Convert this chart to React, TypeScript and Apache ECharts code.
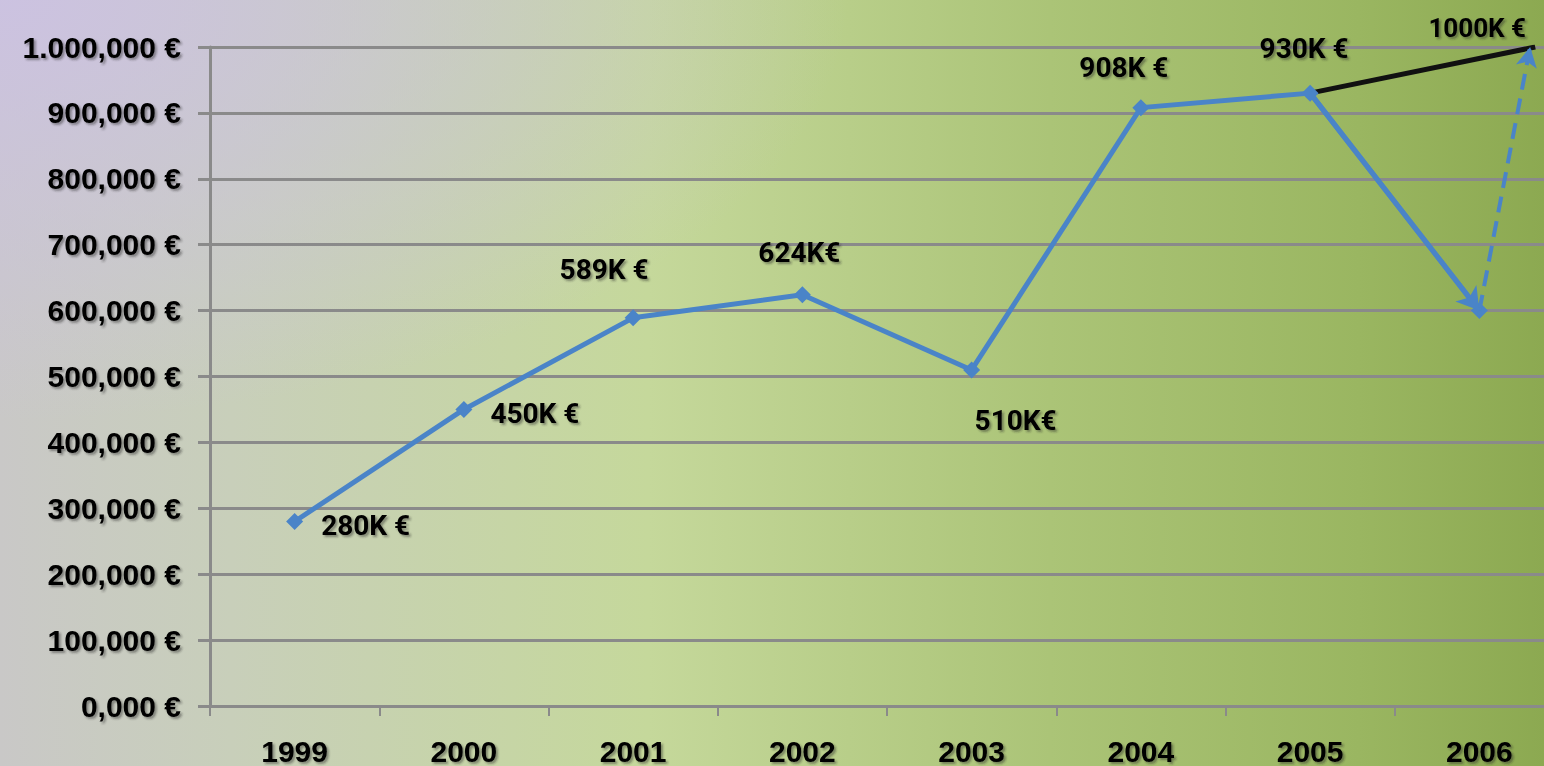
import React, { useEffect, useRef } from "react";
import * as echarts from "echarts";

const years = ["1999", "2000", "2001", "2002", "2003", "2004", "2005", "2006"];
const revenue = [280000, 450000, 589000, 624000, 510000, 908000, 930000, 600000];
const valueLabels = ["280K €", "450K €", "589K €", "624K€", "510K€", "908K €", "930K €", ""];
const yTickLabels = [
  "0,000 €", "100,000 €", "200,000 €", "300,000 €", "400,000 €", "500,000 €",
  "600,000 €", "700,000 €", "800,000 €", "900,000 €", "1.000,000 €",
];
const projectionTarget = 1000000;
const projectionX = 7.33;
const arrowTipX = 7.3;
const projectionLabel = "1000K €";

// label placement per point (style only)
const labelPlacement: any[] = [
  { position: "right", distance: 18, offset: [0, 4] },
  { position: "right", distance: 18, offset: [0, 4] },
  { position: "top", distance: 26, offset: [-29, 0] },
  { position: "top", distance: 20, offset: [-3, 0] },
  { position: "bottom", distance: 28, offset: [44, 0] },
  { position: "top", distance: 18, offset: [-17, 0] },
  { position: "top", distance: 22, offset: [-6, 0] },
  { position: "top", distance: 10, offset: [0, 0] },
];

const BLUE = "#4a84c8";
const GRID = "#8a8a8a";
const shadow = {
  textShadowColor: "rgba(40,40,40,0.45)",
  textShadowOffsetX: 2,
  textShadowOffsetY: 2,
  textShadowBlur: 2,
};

export default function App() {
  const ref = useRef<HTMLDivElement>(null);
  useEffect(() => {
    if (!ref.current) return;
    const chart = echarts.init(ref.current, undefined, { renderer: "svg" });
    const labelFont = {
      fontFamily: "Roboto, 'Noto Sans', sans-serif",
      fontWeight: "bold" as const,
      fontSize: 28,
      color: "#000",
      ...shadow,
    };
    chart.setOption({
      animation: false,
      backgroundColor: {
        type: "linear",
        x: 0, y: 0, x2: 1, y2: 0,
        colorStops: [
          { offset: 0, color: "#c9c8c7" },
          { offset: 0.15, color: "#c8cfba" },
          { offset: 0.42, color: "#c5d89b" },
          { offset: 0.68, color: "#abc477" },
          { offset: 0.88, color: "#9ab661" },
          { offset: 1, color: "#8ca951" },
        ],
      },
      graphic: [
        {
          type: "rect",
          z: -100,
          silent: true,
          shape: { x: 0, y: 0, width: 1544, height: 766 },
          style: {
            fill: {
              type: "radial",
              x: 0, y: 0, r: 0.55,
              colorStops: [
                { offset: 0, color: "rgba(204,194,226,0.95)" },
                { offset: 1, color: "rgba(204,194,226,0)" },
              ],
            },
          },
        },
      ],
      grid: {
        left: 210,
        top: 47,
        bottom: 60,
        width: 1354,
        containLabel: false,
        outerBoundsMode: "none",
      },
      xAxis: [
        {
          type: "category",
          data: years,
          boundaryGap: true,
          axisLine: { lineStyle: { color: GRID, width: 3 } },
          axisTick: { show: true, length: 10, lineStyle: { color: GRID, width: 2 } },
          axisLabel: {
            margin: 30,
            fontFamily: "'Liberation Sans', Arial, sans-serif",
            fontWeight: "bold",
            fontSize: 30,
            color: "#000",
            ...shadow,
          },
          splitLine: { show: false },
        },
        {
          type: "value",
          min: -0.5,
          max: 7.5,
          show: false,
        },
      ],
      yAxis: {
        type: "value",
        min: 0,
        max: 1000000,
        interval: 100000,
        axisLine: { show: true, onZero: false, lineStyle: { color: GRID, width: 3 } },
        axisTick: { show: true, length: 12, lineStyle: { color: GRID, width: 3 } },
        splitLine: { show: true, lineStyle: { color: GRID, width: 3 } },
        axisLabel: {
          margin: 29,
          fontFamily: "'Liberation Sans', Arial, sans-serif",
          fontWeight: "bold",
          fontSize: 30,
          color: "#000",
          formatter: (v: number) => yTickLabels[Math.round(v / 100000)] ?? "",
          ...shadow,
        },
      },
      series: [
        {
          type: "line",
          name: "projection",
          xAxisIndex: 1,
          z: 3,
          symbol: "circle",
          symbolSize: 1,
          showSymbol: true,
          itemStyle: { color: "rgba(0,0,0,0)" },
          data: [
            { value: [6, revenue[6]] },
            {
              value: [projectionX, projectionTarget],
              label: {
                show: true,
                position: "top",
                distance: 6,
                offset: [-58, 0],
                formatter: projectionLabel,
                ...labelFont,
                fontSize: 26,
              },
            },
          ],
          lineStyle: { color: "#111", width: 5 },
          markLine: {
            silent: true,
            symbol: ["none", "arrow"],
            symbolSize: [16, 20],
            label: { show: false },
            lineStyle: { color: BLUE, width: 4, type: [16, 9] },
            data: [
              [{ coord: [7, revenue[7]] }, { coord: [arrowTipX, projectionTarget] }],
            ],
          },
        },
        {
          type: "line",
          name: "revenue",
          xAxisIndex: 0,
          z: 4,
          data: revenue.map((v, i) => ({
            value: v,
            label: {
              show: valueLabels[i] !== "",
              formatter: valueLabels[i],
              ...labelFont,
              ...labelPlacement[i],
            },
          })),
          symbol: "diamond",
          symbolSize: 17,
          itemStyle: { color: BLUE },
          lineStyle: { color: BLUE, width: 5 },
          markLine: {
            silent: true,
            symbol: ["none", "arrow"],
            symbolSize: [20, 22],
            label: { show: false },
            lineStyle: { color: BLUE, width: 5, type: "solid" },
            data: [
              [{ coord: [years[6], revenue[6]] }, { coord: [years[7], revenue[7]] }],
            ],
          },
        },
      ],
    });
    return () => chart.dispose();
  }, []);
  return (
    <div
      ref={ref}
      style={{ position: "fixed", left: 0, top: 0, width: 1544, height: 766 }}
    />
  );
}
